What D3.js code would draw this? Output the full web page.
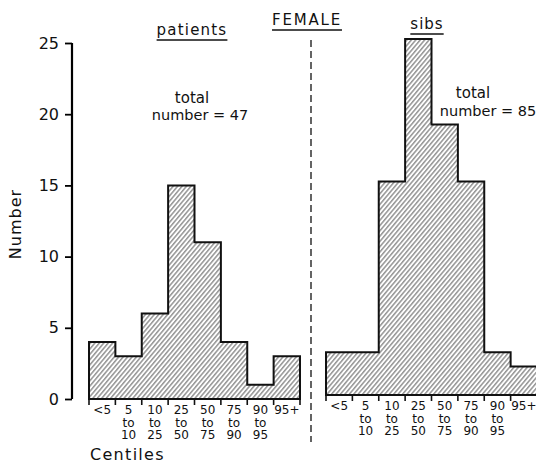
<!DOCTYPE html>
<html>
<head>
<meta charset="utf-8">
<script src="https://cdn.jsdelivr.net/npm/d3@7"></script>
<style>
  body { margin: 0; background: #fff; }
  svg { display: block; font-family: 'DejaVu Sans', sans-serif; }
  text { fill: #111; }
</style>
</head>
<body>
<script>
// centile bins, each label split over lines
var centiles = ['<5', '5-10', '10-25', '25-50', '50-75', '75-90', '90-95', '95+'];
var centileLines = [['<5'], ['5', 'to', '10'], ['10', 'to', '25'], ['25', 'to', '50'],
    ['50', 'to', '75'], ['75', 'to', '90'], ['90', 'to', '95'], ['95+']];
var patients = [4, 3, 6, 15, 11, 4, 1, 3];
var sibs = [3, 3, 15, 25, 19, 15, 3, 2];
var yTicks = [0, 5, 10, 15, 20, 25];

var width = 536,
    height = 464;

var svg = d3.select('body').append('svg')
    .attr('width', width)
    .attr('height', height);

// hatch fill
var pat = svg.append('defs').append('pattern')
    .attr('id', 'hatch')
    .attr('patternUnits', 'userSpaceOnUse')
    .attr('width', 3.4)
    .attr('height', 10)
    .attr('patternTransform', 'rotate(40)');
pat.append('line')
    .attr('x1', 0.8).attr('y1', 0)
    .attr('x2', 0.8).attr('y2', 10)
    .attr('stroke', '#222')
    .attr('stroke-width', 0.8);

function panel(values, x0, x1, base, withAxis) {
    var x = d3.scaleBand().domain(centiles).range([x0, x1]);
    var y = d3.scaleLinear().domain([0, 25]).range([base, base - 356]);
    var g = svg.append('g');

    // step outline of the histogram
    var pts = [[x(centiles[0]), y(0)]];
    values.forEach(function (v, i) {
        pts.push([x(centiles[i]), y(v)]);
        pts.push([x(centiles[i]) + x.bandwidth(), y(v)]);
    });
    pts.push([x1, y(0)]);

    g.append('path')
        .attr('d', d3.line()(pts) + 'Z')
        .attr('fill', 'url(#hatch)')
        .attr('stroke', '#111')
        .attr('stroke-width', 2);

    // x baseline + ticks at bin edges
    g.append('line')
        .attr('x1', x0).attr('x2', x1)
        .attr('y1', y(0)).attr('y2', y(0))
        .attr('stroke', '#111').attr('stroke-width', 2.2);

    var edges = centiles.map(function (c) { return x(c); }).concat([x1]);
    g.selectAll('.xt').data(edges).enter().append('line')
        .attr('x1', function (d) { return d; })
        .attr('x2', function (d) { return d; })
        .attr('y1', y(0))
        .attr('y2', y(0) + 6)
        .attr('stroke', '#111').attr('stroke-width', 1.6);

    var lab = g.selectAll('.xl').data(centileLines).enter().append('text')
        .attr('text-anchor', 'middle')
        .attr('font-size', 12);
    lab.selectAll('tspan').data(function (d, i) {
        return d.map(function (s) { return {s: s, i: i}; });
    }).enter().append('tspan')
        .attr('x', function (d) { return x(centiles[d.i]) + x.bandwidth() / 2; })
        .attr('y', function (d, j) { return y(0) + 15 + j * 12.5; })
        .text(function (d) { return d.s; });

    if (withAxis) {
        var ax = g.append('g')
            .attr('transform', 'translate(72,0)')
            .call(d3.axisLeft(y).tickValues(yTicks).tickSize(7).tickPadding(6));
        ax.select('.domain').attr('stroke-width', 2.2).attr('d', 'M0,' + y(0) + 'V' + y(25));
        ax.selectAll('.tick line').attr('stroke-width', 1.8);
        ax.selectAll('.tick text')
            .attr('font-size', 16)
            .attr('font-family', "'DejaVu Sans', sans-serif")
            .attr('fill', '#111');
    }
    return {x: x, y: y};
}

panel(patients, 89, 300, 399, true);
panel(sibs, 326, 537, 395, false);

// dashed divider
svg.append('line')
    .attr('x1', 311).attr('x2', 311)
    .attr('y1', 40).attr('y2', 442)
    .attr('stroke', '#111')
    .attr('stroke-width', 1.3)
    .attr('stroke-dasharray', '7,4');

function underlined(txt, cx, by, size, sp) {
    var t = svg.append('text')
        .attr('x', cx).attr('y', by)
        .attr('text-anchor', 'middle')
        .attr('font-size', size)
        .attr('letter-spacing', sp)
        .text(txt);
    var w = t.node().getComputedTextLength();
    svg.append('line')
        .attr('x1', cx - w / 2).attr('x2', cx + w / 2)
        .attr('y1', by + 5).attr('y2', by + 5)
        .attr('stroke', '#111').attr('stroke-width', 1.6);
}

underlined('FEMALE', 307, 25, 15, 1.8);
underlined('patients', 192, 35, 15, 1.2);
underlined('sibs', 427, 29, 15, 1);

svg.append('text').attr('x', 192).attr('y', 103)
    .attr('text-anchor', 'middle').attr('font-size', 15).text('total');
svg.append('text').attr('x', 200).attr('y', 120)
    .attr('text-anchor', 'middle').attr('font-size', 14.5).text('number = 47');
svg.append('text').attr('x', 473).attr('y', 98)
    .attr('text-anchor', 'middle').attr('font-size', 15).text('total');
svg.append('text').attr('x', 488).attr('y', 116)
    .attr('text-anchor', 'middle').attr('font-size', 14.5).text('number = 85');

svg.append('text')
    .attr('transform', 'translate(21,224) rotate(-90)')
    .attr('text-anchor', 'middle')
    .attr('font-size', 16)
    .attr('letter-spacing', 1)
    .text('Number');

svg.append('text')
    .attr('x', 90).attr('y', 460)
    .attr('font-size', 16)
    .attr('letter-spacing', 1.3)
    .text('Centiles');
</script>
</body>
</html>
